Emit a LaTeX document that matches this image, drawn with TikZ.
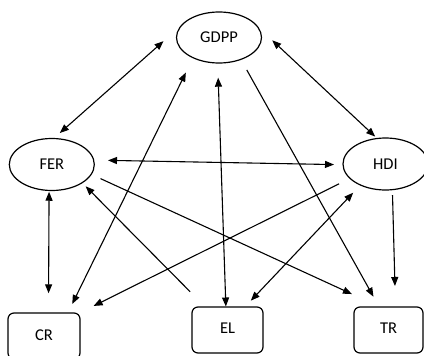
\documentclass[tikz,border=0pt]{standalone}
\usepackage{fontspec}
\setmainfont{Carlito}
\usetikzlibrary{shapes.geometric,arrows.meta}
\begin{document}
\begin{tikzpicture}[x=1pt,y=-1pt,
  ell/.style={draw,line width=1.2pt,ellipse,minimum width=85pt,minimum height=52pt,inner sep=0pt,outer sep=0pt,font=\fontsize{16.5}{19}\selectfont},
  box/.style={draw,line width=1.2pt,rectangle,rounded corners=6pt,minimum height=46pt,inner sep=0pt,outer sep=0pt,font=\fontsize{16.5}{19}\selectfont},
  onearrow/.style={line width=1.1pt,-{Triangle[length=9pt,width=7pt]}},
  twoarrow/.style={line width=1.1pt,{Triangle[length=9pt,width=7pt]}-{Triangle[length=9pt,width=7pt]}}
]
\useasboundingbox (0,0) rectangle (424,356);
\fill[white] (0,0) rectangle (424,356);
\node[ell,minimum height=51pt] (gdpp) at (219,37.5) {GDPP};
\node[ell] (fer) at (51.8,164.5) {FER};
\node[ell] (hdi) at (385.5,164) {HDI};
\node[box,minimum width=72pt] (cr) at (44,336) {\raisebox{2pt}{CR}};
\node[box,minimum width=71pt] (el) at (227.5,330) {\raisebox{3pt}{EL}};
\node[box,minimum width=69pt] (tr) at (388.5,330) {\raisebox{3pt}{TR}};
% connectors
\draw[twoarrow,shorten <=27pt,shorten >=8.3pt] (gdpp.158) -- (fer.86);
\draw[twoarrow,shorten <=21pt,shorten >=2.8pt] (gdpp.17.3) -- (hdi.108);
\draw[twoarrow,shorten <=14.3pt,shorten >=9pt] (fer.6.5) -- (hdi.181);
\draw[twoarrow,shorten <=16.5pt,shorten >=10pt] (gdpp.218.2) -- (cr.44.6);
\draw[twoarrow,shorten <=14.7pt,shorten >=0.5pt] (gdpp.267.3) -- (el.94.5);
\draw[onearrow,shorten <=12.15pt,shorten >=11.8pt] (gdpp.315) -- (tr.112.3);
\draw[onearrow,shorten <=5.4pt,shorten >=21pt] (hdi.285.5) -- (tr.73.1);
\draw[twoarrow,shorten <=1.3pt,shorten >=19.7pt] (fer.264.5) -- (cr.79.9);
\draw[onearrow,shorten <=21.5pt,shorten >=5pt] (el.134.3) -- (fer.329.6);
\draw[onearrow,shorten <=10.3pt,shorten >=31pt] (fer.346.5) -- (tr.110.5);
\draw[onearrow,shorten <=12.25pt,shorten >=15.8pt] (hdi.202.5) -- (cr.33.65);
\draw[twoarrow,shorten <=8.7pt,shorten >=10.6pt] (el.53.2) -- (hdi.220.1);
\end{tikzpicture}
\end{document}
